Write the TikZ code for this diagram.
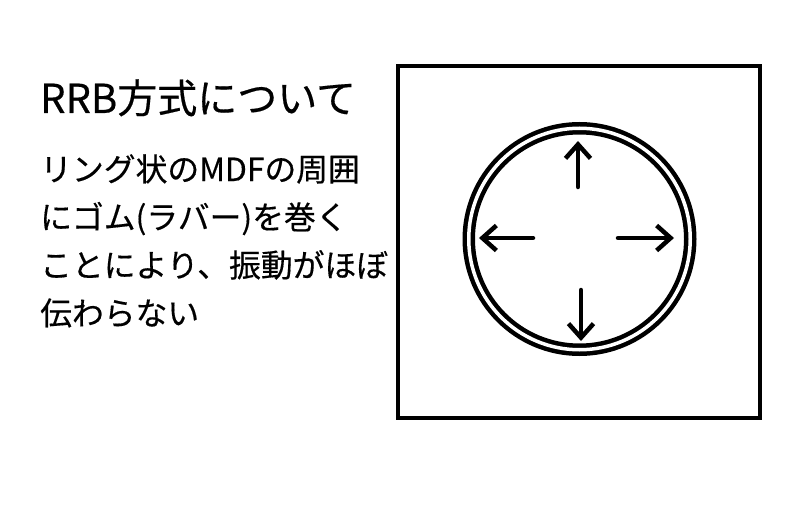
\documentclass[tikz,border=0pt]{standalone}
\usepackage{fontspec}
\setmainfont{Noto Sans CJK JP}[FakeBold=0.4]
\usetikzlibrary{arrows.meta}

\begin{document}
\begin{tikzpicture}[x=1pt,y=-1pt,
    txt/.style={anchor=base west,inner sep=0pt,font=\fontsize{31.8}{31.8}\selectfont},
    push/.style={line width=4.5pt,line cap=round,-{Straight Barb[length=14pt,width=25pt]}}]

    \useasboundingbox (0,0) rectangle (803,532);

    % text on the left
    \node[txt,font=\fontsize{40}{40}\selectfont] (title) at (40,113) {RRB方式について};
    \node[txt] (l1) at (40,181) {リング状のMDFの周囲};
    \node[txt] (l2) at (40,229) {にゴム(ラバー)を巻く};
    \node[txt] (l3) at (40,277) {ことにより、振動がほぼ};
    \node[txt] (l4) at (40,325) {伝わらない};

    % frame
    \node[draw,line width=4pt,rectangle,inner sep=0pt,minimum width=362pt,minimum height=351pt] (frame) at (578.5,242) {};

    % ring
    \node[draw,circle,double,double distance=3.5pt,line width=4.5pt,inner sep=0pt,minimum size=221.5pt] (ring) at (579.5,239) {};

    % arrows
    \coordinate (u0) at (578,187); \coordinate (u1) at (578,141);
    \coordinate (d0) at (581,290); \coordinate (d1) at (581,341);
    \coordinate (w0) at (533,238); \coordinate (w1) at (479,238);
    \coordinate (e0) at (618,238); \coordinate (e1) at (674,238);
    \draw[push] (u0) -- (u1);
    \draw[push] (d0) -- (d1);
    \draw[push] (w0) -- (w1);
    \draw[push] (e0) -- (e1);

\end{tikzpicture}
\end{document}
